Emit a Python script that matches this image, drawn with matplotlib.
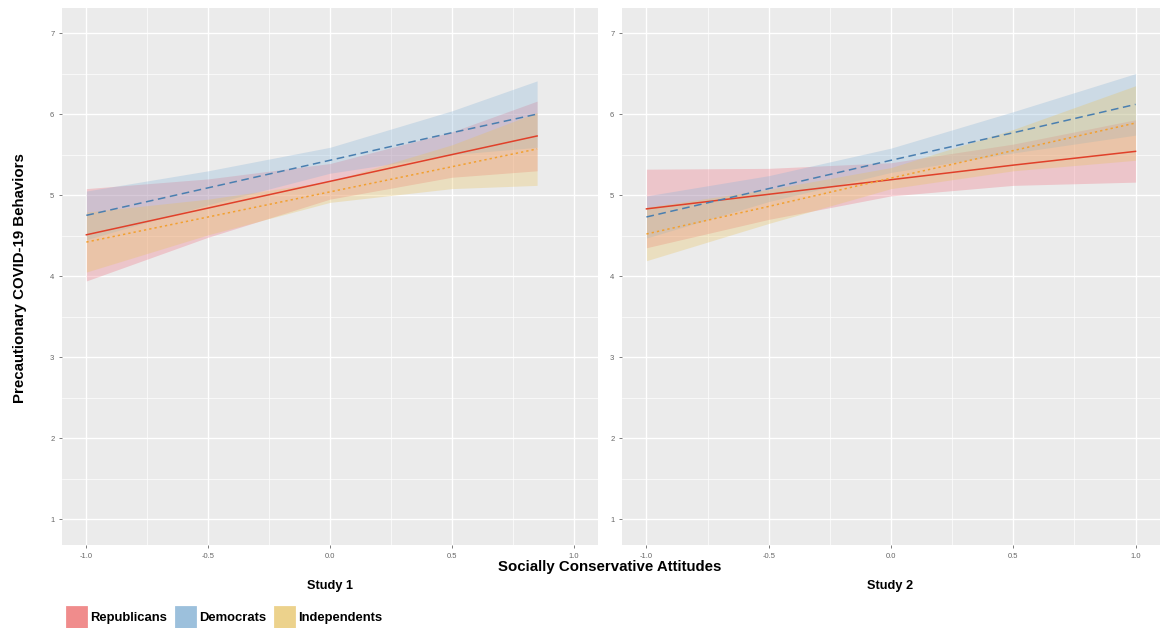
import matplotlib
matplotlib.use("Agg")
from matplotlib import pyplot as plt
from matplotlib.patches import Patch

plt.rcParams["font.family"] = ["Liberation Sans", "DejaVu Sans"]

# Study 1
s1_x = [-1.0, -0.5, 0.0, 0.5, 0.85]
s1_rep = [4.51, 4.84, 5.17, 5.50, 5.73]
s1_rep_lo = [3.94, 4.48, 4.95, 5.22, 5.30]
s1_rep_hi = [5.08, 5.20, 5.39, 5.78, 6.16]
s1_dem = [4.75, 5.09, 5.43, 5.77, 6.00]
s1_dem_lo = [4.45, 4.88, 5.27, 5.50, 5.59]
s1_dem_hi = [5.05, 5.30, 5.59, 6.04, 6.41]
s1_ind = [4.42, 4.73, 5.04, 5.35, 5.57]
s1_ind_lo = [4.05, 4.51, 4.91, 5.08, 5.12]
s1_ind_hi = [4.79, 4.95, 5.17, 5.62, 6.02]

# Study 2
s2_x = [-1.0, -0.5, 0.0, 0.5, 1.0]
s2_rep = [4.83, 5.01, 5.19, 5.37, 5.54]
s2_rep_lo = [4.35, 4.70, 4.99, 5.12, 5.16]
s2_rep_hi = [5.32, 5.33, 5.40, 5.63, 5.93]
s2_dem = [4.73, 5.08, 5.43, 5.77, 6.12]
s2_dem_lo = [4.47, 4.92, 5.28, 5.52, 5.74]
s2_dem_hi = [4.99, 5.24, 5.58, 6.03, 6.50]
s2_ind = [4.52, 4.86, 5.21, 5.55, 5.89]
s2_ind_lo = [4.19, 4.65, 5.08, 5.30, 5.43]
s2_ind_hi = [4.85, 5.07, 5.34, 5.81, 6.35]

groups = ["Republicans", "Democrats", "Independents"]
x_ticks = [-1.0, -0.5, 0.0, 0.5, 1.0]
y_ticks = [1, 2, 3, 4, 5, 6, 7]

fill_cols = ["#ef6f7e", "#86b3d8", "#e8c25a"]
line_cols = ["#e0402a", "#4a7fb0", "#f2a030"]
styles = ["-", (0, (5, 3)), (0, (1.5, 2))]
key_cols = ["#f08c8c", "#9cc0dc", "#ecd28c"]

fig = plt.figure(figsize=(11.6, 6.28), dpi=100)
ax1 = fig.add_axes([62 / 1160, 83 / 628, 536 / 1160, 537 / 628])
ax2 = fig.add_axes([622 / 1160, 83 / 628, 538 / 1160, 537 / 628])

study1 = [(s1_rep, s1_rep_lo, s1_rep_hi), (s1_dem, s1_dem_lo, s1_dem_hi),
          (s1_ind, s1_ind_lo, s1_ind_hi)]
study2 = [(s2_rep, s2_rep_lo, s2_rep_hi), (s2_dem, s2_dem_lo, s2_dem_hi),
          (s2_ind, s2_ind_lo, s2_ind_hi)]


def style_axes(ax):
    ax.set_facecolor("#ebebeb")
    for s in ax.spines.values():
        s.set_visible(False)
    ax.set_xlim(-1.1, 1.1)
    ax.set_ylim(0.68, 7.31)
    ax.set_xticks(x_ticks)
    ax.set_xticklabels([f"{v:.1f}" for v in x_ticks])
    ax.set_yticks(y_ticks)
    ax.set_xticks([-0.75, -0.25, 0.25, 0.75], minor=True)
    ax.set_yticks([1.5, 2.5, 3.5, 4.5, 5.5, 6.5], minor=True)
    ax.grid(True, which="major", color="white", lw=1.0)
    ax.grid(True, which="minor", color="white", lw=0.5)
    ax.set_axisbelow(True)
    ax.tick_params(which="major", labelsize=5.5, labelcolor="#666666",
                   color="#666666", length=2.5, width=0.6, pad=3)
    ax.tick_params(which="minor", length=0)


for ax, xs, data in [(ax1, s1_x, study1), (ax2, s2_x, study2)]:
    style_axes(ax)
    for i, (line, lo, hi) in enumerate(data):
        ax.fill_between(xs, lo, hi, color=fill_cols[i], alpha=0.3, lw=0)
    for i, (line, lo, hi) in enumerate(data):
        ax.plot(xs, line, color=line_cols[i], ls=styles[i], lw=1.1)

fig.text(20 / 1160, 1 - 278 / 628, "Precautionary COVID-19 Behaviors",
         rotation=90, ha="center", va="center", fontsize=10.8, fontweight="bold")
fig.text(610 / 1160, 1 - 567 / 628, "Socially Conservative Attitudes",
         ha="center", va="center", fontsize=10.8, fontweight="bold")
fig.text(330 / 1160, 1 - 586 / 628, "Study 1", ha="center", va="center",
         fontsize=9.2, fontweight="bold")
fig.text(890 / 1160, 1 - 586 / 628, "Study 2", ha="center", va="center",
         fontsize=9.2, fontweight="bold")

handles = [Patch(facecolor=key_cols[i], edgecolor=key_cols[i], lw=2,
                 joinstyle="round", label=g) for i, g in enumerate(groups)]
fig.legend(handles=handles, loc="lower left", bbox_to_anchor=(55 / 1160, -0.017),
           ncol=3, frameon=False, handlelength=1.5, handleheight=2.0,
           handletextpad=0.3, columnspacing=0.65,
           prop={"weight": "bold", "size": 9.4})

fig.savefig("out.png", dpi=100)
